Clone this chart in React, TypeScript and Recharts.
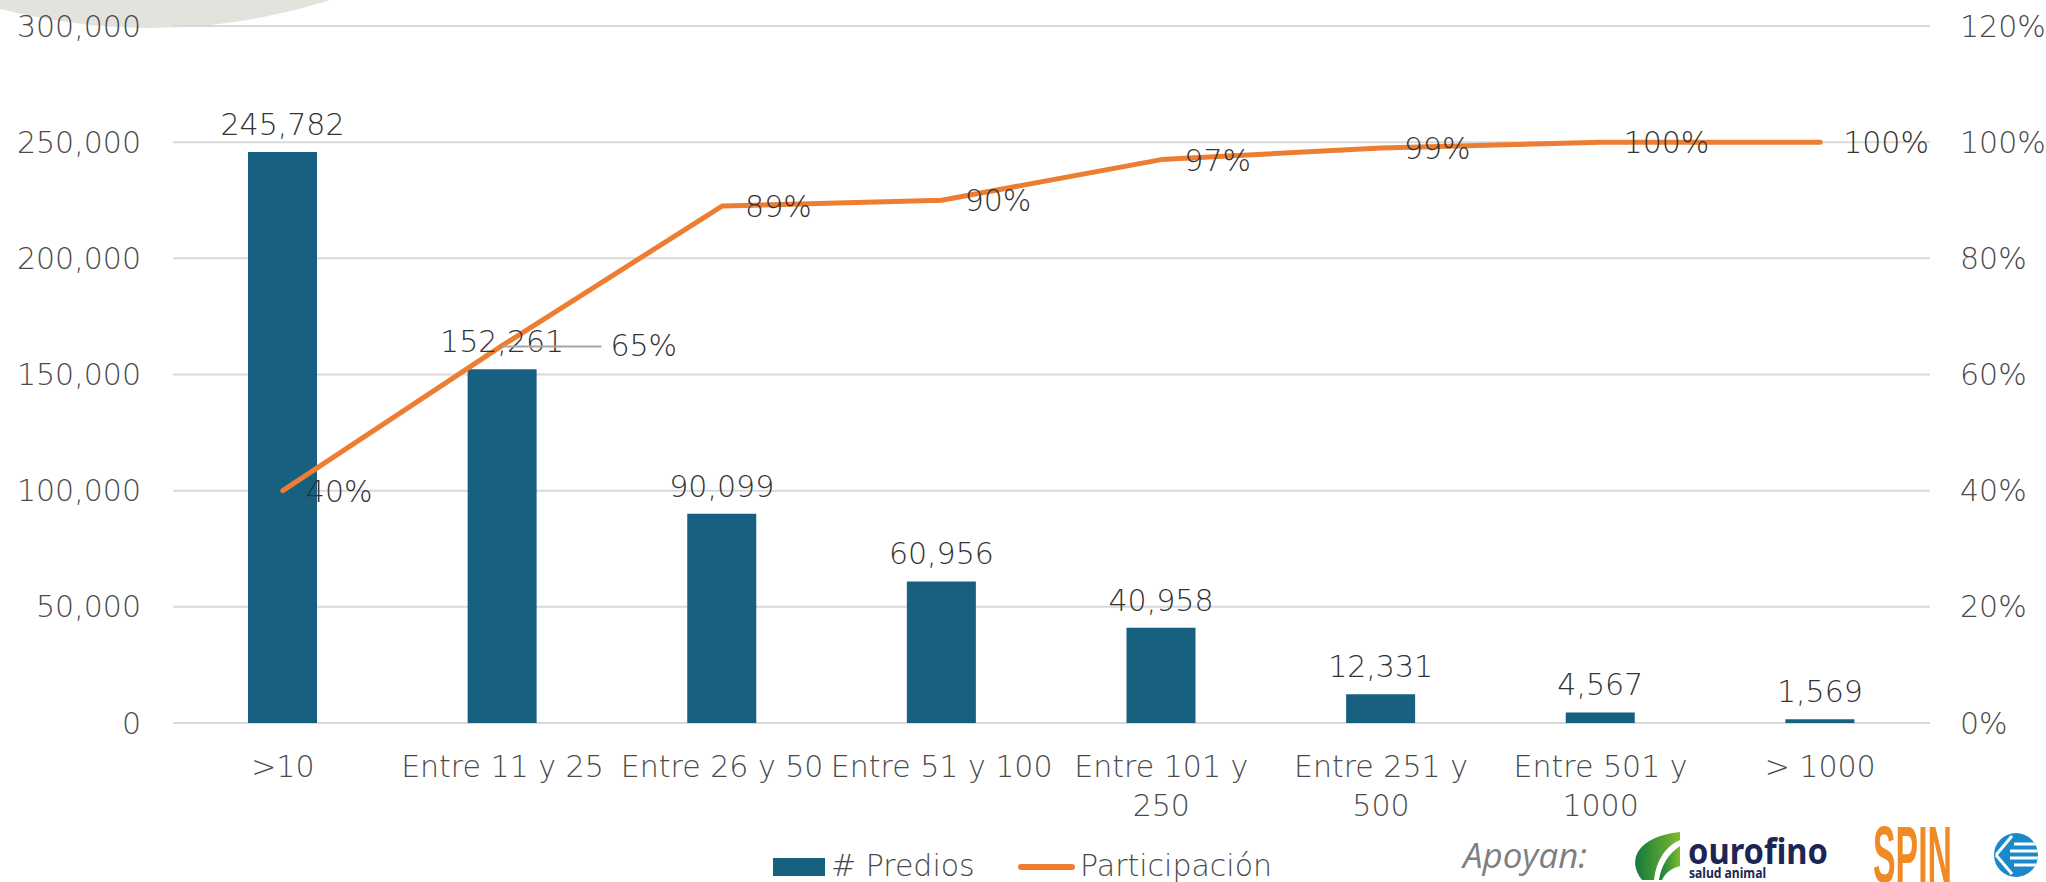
import { Bar, CartesianGrid, ComposedChart, LabelList, Legend, Line, XAxis, YAxis } from "recharts";

const categories = [
  ">10",
  "Entre 11 y 25",
  "Entre 26 y 50",
  "Entre 51 y 100",
  "Entre 101 y 250",
  "Entre 251 y 500",
  "Entre 501 y 1000",
  "> 1000"
];
const predios = [245782, 152261, 90099, 60956, 40958, 12331, 4567, 1569];
const participacion = [0.4, 0.65, 0.89, 0.9, 0.97, 0.99, 1.0, 1.0];
const leftTicks = [0, 50000, 100000, 150000, 200000, 250000, 300000];
const rightTicks = [0, 0.2, 0.4, 0.6, 0.8, 1.0, 1.2];

const data = categories.map((c, i) => ({ name: c, predios: predios[i], participacion: participacion[i] }));

const FONT = "'DejaVu Sans', sans-serif";
const BLUE = "#17607F";
const ORANGE = "#ED7D31";
const TICK = "#4A4A4A";
const LABEL = "#333333";

const fmtNum = (v: number) => v.toLocaleString("en-US");
const fmtPct = (v: number) => `${Math.round(v * 100)}%`;

function XTick({ x, y, payload }: any) {
  const v: string = payload.value;
  let lines = [v];
  if (v.length > 14) {
    const k = v.lastIndexOf(" ");
    lines = [v.slice(0, k), v.slice(k + 1)];
  }
  return (
    <text x={x} y={y} textAnchor="middle" fontFamily={FONT} fontWeight={300} fontSize={30} fill={TICK}>
      {lines.map((l, i) => (
        <tspan key={i} x={x} dy={i === 0 ? 54 : 39}>
          {l}
        </tspan>
      ))}
    </text>
  );
}

function BarLabel({ x, y, width, value }: any) {
  return (
    <text x={x + width / 2} y={y - 17} textAnchor="middle" fontFamily={FONT} fontWeight={300} fontSize={30} fill={LABEL}>
      {fmtNum(value)}
    </text>
  );
}

function LineLabel({ x, y, value, index }: any) {
  // the 65% label sits further right, joined to its point by a leader line
  const shift = index === 1 ? 108 : 23;
  return (
    <g>
      {index === 1 && <line x1={x} y1={y + 1} x2={x + shift - 9} y2={y + 1} stroke="#A6A6A6" strokeWidth={2} />}
      <text x={x + shift} y={y + 11} fontFamily={FONT} fontWeight={300} fontSize={30} fill={LABEL}>
        {fmtPct(value)}
      </text>
    </g>
  );
}

function renderLegend(props: any) {
  const items = props.payload || [];
  return (
    <svg width={600} height={40} style={{ overflow: "visible" }}>
      {items.map((it: any, i: number) => {
        const ox = i * 245;
        return (
          <g key={i}>
            {it.type === "line" ? (
              <line x1={ox + 3} y1={22} x2={ox + 54} y2={22} stroke={it.color} strokeWidth={6} strokeLinecap="round" />
            ) : (
              <rect x={ox} y={13} width={52} height={18} fill={it.color} />
            )}
            <text x={ox + (it.type === "line" ? 62 : 58)} y={31} fontFamily={FONT} fontWeight={300} fontSize={30} fill={TICK}>
              {it.value}
            </text>
          </g>
        );
      })}
    </svg>
  );
}

function Logos() {
  return (
    <svg width={2046} height={882} style={{ position: "absolute", left: 0, top: 0, pointerEvents: "none" }}>
      <defs>
        <linearGradient id="leafG" x1="0" y1="0" x2="1" y2="0">
          <stop offset="0" stopColor="#137A3C" />
          <stop offset="1" stopColor="#7DBB2D" />
        </linearGradient>
        <clipPath id="blueClip">
          <circle cx={2016} cy={855} r={22} />
        </clipPath>
      </defs>
      <text x={1463} y={868} fontFamily="'Open Sans', sans-serif" fontStyle="italic" fontSize={35} fill="#7F7F7F" textLength={124} lengthAdjust="spacingAndGlyphs">
        Apoyan:
      </text>
      <g transform="translate(1632,832)">
        <path d="M10,48 C-6,28 6,4 48,0 L48,8 C34,14 24,28 22,48 Z" fill="url(#leafG)" />
        <path d="M48,14 L48,34 C40,36 33,41 30,48 L27,48 C29,34 36,22 48,14 Z" fill="url(#leafG)" />
      </g>
      <text x={1688} y={864} fontFamily="'Noto Sans', sans-serif" fontWeight={700} fontSize={36} fill="#1D2554" textLength={140} lengthAdjust="spacingAndGlyphs">
        ourofino
      </text>
      <text x={1689} y={878} fontFamily="'Noto Sans', sans-serif" fontWeight={700} fontSize={14} fill="#1D2554" textLength={77} lengthAdjust="spacingAndGlyphs">
        salud animal
      </text>
      <text x={1873} y={882} fontFamily="'Liberation Sans Narrow', 'Liberation Sans', sans-serif" fontWeight={700} fontSize={80} fill="#F08A24" textLength={79} lengthAdjust="spacingAndGlyphs">
        SPIN
      </text>
      <circle cx={2016} cy={855} r={22} fill="#1A88C9" />
      <g clipPath="url(#blueClip)" stroke="#fff" strokeWidth={3}>
        <line x1={2014} y1={844} x2={2040} y2={844} />
        <line x1={2010} y1={851} x2={2040} y2={851} />
        <line x1={2010} y1={858} x2={2040} y2={858} />
        <line x1={2014} y1={865} x2={2040} y2={865} />
        <line x1={1996} y1={855} x2={2012} y2={836} />
        <line x1={1996} y1={855} x2={2012} y2={874} />
      </g>
    </svg>
  );
}

export default function App() {
  return (
    <div style={{ position: "relative", width: 2046, height: 882, overflow: "hidden", background: "#fff" }}>
      <style>{"body{margin:0}"}</style>
      <div
        style={{
          position: "absolute",
          left: 150 - 593,
          top: -565 - 593,
          width: 1186,
          height: 1186,
          borderRadius: "50%",
          background: "#E3E2DD"
        }}
      />
      <div style={{ position: "absolute", left: 0, top: 0 }}>
        <ComposedChart width={2046} height={882} data={data} margin={{ top: 26, right: 0, bottom: 0, left: 0 }}>
          <CartesianGrid yAxisId="left" vertical={false} stroke="#D9D9D9" strokeWidth={2} />
          <XAxis dataKey="name" axisLine={false} tickLine={false} tickSize={0} tickMargin={0} height={159} interval={0} tick={<XTick />} />
          <YAxis
            yAxisId="left"
            orientation="left"
            width={173}
            domain={[0, 300000]}
            ticks={leftTicks}
            tickFormatter={fmtNum}
            axisLine={false}
            tickLine={false}
            tickSize={0}
            tickMargin={32}
            tick={{ fontFamily: FONT, fontWeight: 300, fontSize: 30, fill: TICK }}
          />
          <YAxis
            yAxisId="right"
            orientation="right"
            width={116}
            domain={[0, 1.2]}
            ticks={rightTicks}
            tickFormatter={fmtPct}
            axisLine={false}
            tickLine={false}
            tickSize={0}
            tickMargin={30}
            tick={{ fontFamily: FONT, fontWeight: 300, fontSize: 30, fill: TICK, textAnchor: "start" }}
          />
          <Legend content={renderLegend} wrapperStyle={{ left: 773, top: 845, width: 600, height: 0 }} />
          <Bar yAxisId="left" dataKey="predios" name="# Predios" fill={BLUE} barSize={69} isAnimationActive={false}>
            <LabelList dataKey="predios" content={<BarLabel />} />
          </Bar>
          <Line
            yAxisId="right"
            type="linear"
            dataKey="participacion"
            name="Participación"
            stroke={ORANGE}
            strokeWidth={5}
            strokeLinecap="round"
            strokeLinejoin="round"
            dot={false}
            activeDot={false}
            legendType="line"
            isAnimationActive={false}
          >
            <LabelList dataKey="participacion" content={<LineLabel />} />
          </Line>
        </ComposedChart>
      </div>
      <Logos />
    </div>
  );
}
